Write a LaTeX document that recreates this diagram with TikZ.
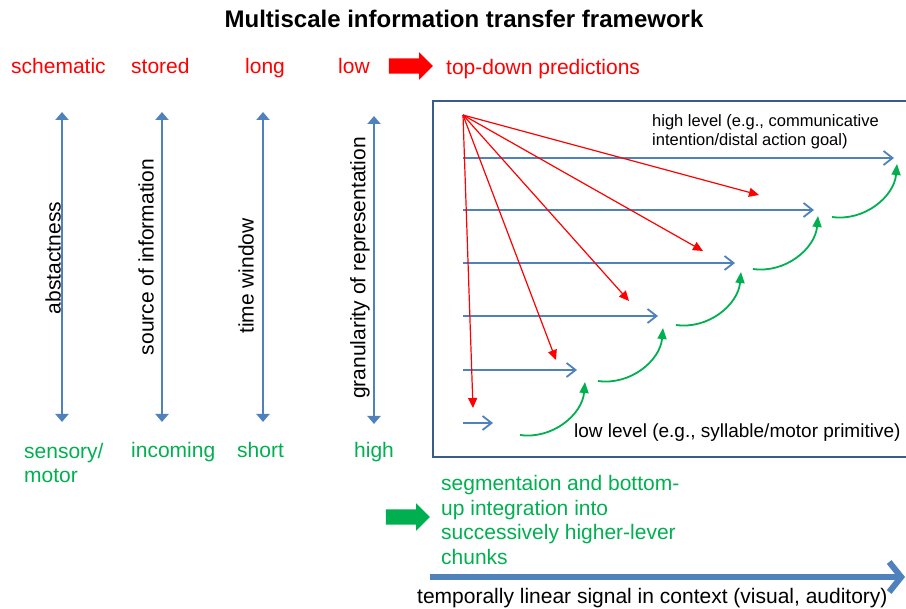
\documentclass[tikz,border=0pt]{standalone}
\usepackage{fontspec}
\setmainfont{Liberation Sans}
\usepackage{xcolor}
\usetikzlibrary{arrows.meta,shapes.arrows}

\definecolor{tdred}{RGB}{255,0,0}
\definecolor{bugreen}{RGB}{0,176,80}
\definecolor{axblue}{RGB}{79,129,189}
\definecolor{frblue}{RGB}{56,93,138}

\begin{document}
\begin{tikzpicture}[x=1pt, y=-1pt,
      lbl/.style={font=\fontsize{21}{24.5}\selectfont, inner sep=0pt, anchor=base west},
      rd/.style={lbl, text=tdred},
      gr/.style={lbl, text=bugreen},
      side/.style={font=\fontsize{21}{24}\selectfont, rotate=90, inner sep=0pt},
      axis/.style={draw=axblue, line width=2.2pt, {Triangle[length=8pt,width=13pt]}-{Triangle[length=8pt,width=13pt]}},
      row/.style={draw=axblue, line width=1.8pt, -{Straight Barb[length=9pt,width=14pt]}},
      pred/.style={draw=tdred, line width=1.2pt, -{Triangle[length=10pt,width=9pt]}},
      chunk/.style={draw=bugreen, line width=1.8pt, -{Triangle[length=11pt,width=9pt]}},
      fat/.style={single arrow, inner sep=7.5pt, minimum height=44pt, single arrow head extend=6pt}]
    \useasboundingbox (0,0) rectangle (906,609);
    \node[font=\bfseries\fontsize{24}{28}\selectfont, inner sep=0pt, anchor=base] (title) at (464,28) {Multiscale information transfer framework};
    % top labels
    \foreach \n/\x/\t in {schem/11/schematic, stor/131/stored, long/245/long, low/338/low} {
      \node[rd] (\n) at (\x,74) {\t};
    }
    \node[fat, fill=tdred] (tdarr) at (407,66) {};
    \node[rd] (topdown) at (446,75) {top-down predictions};
    % scales
    \foreach \i/\x/\a/\b in {1/62/112/422, 2/162/112/422, 3/263/112/422, 4/374/116/424} {
      \coordinate (ax\i-t) at (\x,\a);
      \coordinate (ax\i-b) at (\x,\b);
      \draw[axis] (ax\i-t) -- (ax\i-b);
    }
    \node[side] (abst) at (53,258) {abstactness};
    \node[side] (source) at (146,257) {source of information};
    \node[side] (twin) at (246,276) {time window};
    \node[side] (gran) at (360,268) {granularity of representation};
    % bottom labels (base = last line)
    \node[gr, align=left] (sens) at (24,483) {sensory/\\motor};
    \foreach \n/\x/\t in {inc/131/incoming, short/237/short, high/354/high} {
      \node[gr] (\n) at (\x,458) {\t};
    }
    % hierarchy frame
    \draw[frblue, line width=2.8pt] (433,101) rectangle (920,457);
    \node[font=\fontsize{16.5}{19}\selectfont, inner sep=0pt, anchor=base west, align=left] (hilev) at (652,146) {high level (e.g., communicative\\intention/distal action goal)};
    \node[font=\fontsize{19}{22}\selectfont, inner sep=0pt, anchor=base west] (lolev) at (574,438) {low level (e.g., syllable/motor primitive)};
    \foreach \i/\y/\e in {1/158/894, 2/210/814, 3/263/735, 4/316/658, 5/370/577, 6/423/493} {
      \coordinate (r\i-s) at (463,\y);
      \coordinate (r\i-e) at (\e,\y);
      \draw[row] (r\i-s) -- (r\i-e);
    }
    \coordinate (src) at (463,115);
    \foreach \i/\x/\y in {1/759/195, 2/703/251, 3/629/301, 4/556/360, 5/473/408} {
      \coordinate (p\i) at (\x,\y);
      \draw[pred] (src) -- (p\i);
    }
    \foreach \i/\x/\y in {1/520/435, 2/598/381, 3/676/325, 4/753/269, 5/832/217} {
      \coordinate (c\i-s) at (\x,\y);
      \coordinate (c\i-e) at (\x+65,\y-53);
      \draw[chunk] (c\i-s) to[out=-8, in=-95] (c\i-e);
    }
    % bottom-up legend
    \node[fat, fill=bugreen] (buarr) at (404,517) {};
    \node[gr, align=left] (bottomup) at (441,564.5) {segmentaion and bottom-\\up integration into\\successively higher-lever\\chunks};
    \coordinate (sig-s) at (430,577);
    \coordinate (sig-e) at (905,577);
    \draw[draw=axblue, line width=6pt, -{Straight Barb[length=12pt,width=30pt]}] (sig-s) -- (sig-e);
    \node[lbl] (signal) at (417,604) {temporally linear signal in context (visual, auditory)};
  \end{tikzpicture}
\end{document}
